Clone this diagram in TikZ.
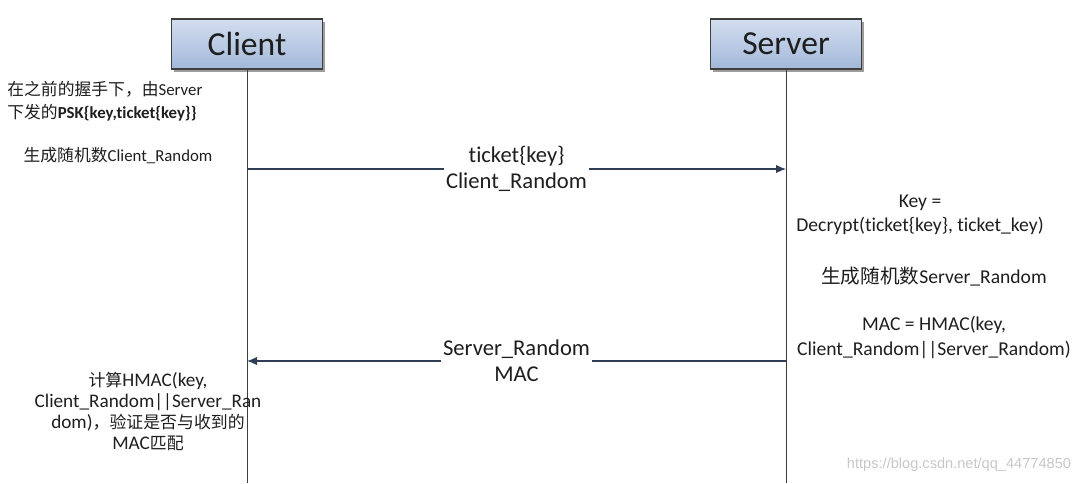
\documentclass[tikz,border=0pt]{standalone}
\usepackage{fontspec}
\setmainfont[Ligatures={NoCommon}]{Carlito}
\newfontfamily\cjk{Noto Sans CJK SC}
\newfontfamily\cjks[Scale=0.88]{Noto Sans CJK SC}
\newfontfamily\wmfont{Liberation Sans}
\usetikzlibrary{arrows.meta,shadows}
\definecolor{boxtop}{HTML}{D3DEEF}
\definecolor{boxbot}{HTML}{A2B8DA}
\definecolor{boxline}{HTML}{3F3F3F}
\definecolor{msgline}{HTML}{2E3E55}
\definecolor{ink}{HTML}{1E1E1E}

\begin{document}
\begin{tikzpicture}[x=0.5pt,y=-0.5pt,
  actor/.style={draw=boxline,line width=0.6pt,top color=boxtop,bottom color=boxbot,
    minimum width=75.5pt,minimum height=25pt,inner sep=0pt,text=ink,
    font=\fontsize{16.8}{18}\selectfont,
    drop shadow={shadow xshift=1.3pt,shadow yshift=-1.3pt,fill=black!55,opacity=0.7}},
  life/.style={draw=boxline,line width=0.5pt},
  msg/.style={draw=msgline,line width=0.55pt,-{Latex[length=5pt,width=4.2pt]}},
  msglabel/.style={fill=white,inner sep=1pt,align=center,text=ink,
    font=\fontsize{11.3}{13}\selectfont},
  leftnote/.style={align=left,text=ink,inner sep=0pt,font=\fontsize{8.4}{11.5}\selectfont},
  sidenote/.style={align=center,text=ink,inner sep=0pt,font=\fontsize{9.8}{12.2}\selectfont}]
  \useasboundingbox (0,0) rectangle (1090,483);

  % participants
  \node[actor] (client) at (247,44) {Client};
  \node[actor] (server) at (786,44) {Server};
  \coordinate (cend) at (247,483);
  \coordinate (send) at (786,483);
  \draw[life] (client.south) -- (cend);
  \draw[life] (server.south) -- (send);

  % client side
  \node[leftnote,anchor=west] (psk) at (7,101.5)
    {{\cjk 在之前的握手下，由}Server\\{\cjk 下发的}\textbf{PSK\{key,ticket\{key\}\}}};
  \node[leftnote] (crand) at (118,156) {{\cjk 生成随机数}Client\_Random};

  % first message
  \coordinate (c1) at (247,169);
  \coordinate (s1) at (786,169);
  \draw[msg] (c1) -- (s1) node[msglabel,pos=0.5] (m1) {ticket\{key\}\\Client\_Random};

  % server side
  \node[sidenote] (dec) at (920,215) {Key =\\Decrypt(ticket\{key\}, ticket\_key)};
  \node[sidenote] (srand) at (934,277) {{\cjk 生成随机数}Server\_Random};
  \node[sidenote] (mac) at (934,337.5) {MAC = HMAC(key,\\Client\_Random||Server\_Random)};

  % second message
  \coordinate (s2) at (786,361);
  \coordinate (c2) at (247,361);
  \draw[msg] (s2) -- (c2) node[msglabel,pos=0.5] (m2) {Server\_Random\\MAC};

  % client check
  \node[leftnote,align=center,font=\fontsize{9.6}{10.6}\selectfont] (check) at (148,411.5)
    {{\cjks 计算}HMAC(key,\\Client\_Random||Server\_Ran\\dom){\cjks ，验证是否与收到的}\\MAC{\cjks 匹配}};

  \node[text=black!22,inner sep=0pt,font=\wmfont\fontsize{7.3}{8}\selectfont] (wm) at (959,465)
    {https://blog.csdn.net/qq\_44774850};
\end{tikzpicture}
\end{document}
